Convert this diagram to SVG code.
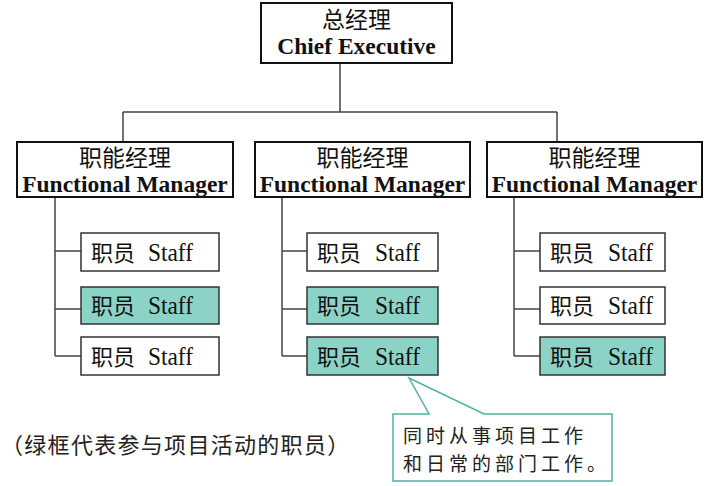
<svg xmlns="http://www.w3.org/2000/svg" width="712" height="486" viewBox="0 0 712 486">
<style>
.bg{fill:#ffffff}
.mgr{fill:#ffffff;stroke:#111;stroke-width:2}
.staff{fill:#ffffff;stroke:#333;stroke-width:1.5}
.staff.g{fill:#8CD3C7}
.ln{fill:none;stroke:#444;stroke-width:1.5}
.cn{font-family:"Liberation Serif","Noto Sans CJK SC",serif;font-size:23px;fill:#111}
.en{font-family:"Liberation Serif","Noto Sans CJK SC",serif;font-size:23.5px;font-weight:bold;fill:#111}
.st{font-family:"Liberation Serif","Noto Sans CJK SC",serif;font-size:22px;fill:#111}
.sl{font-family:"Liberation Serif",serif;font-size:25px;fill:#111}
.note{font-family:"Noto Sans CJK SC",sans-serif;font-size:22px;fill:#222;letter-spacing:1.3px}
.cl{font-family:"Noto Sans CJK SC",sans-serif;font-size:19px;fill:#222;letter-spacing:4px}
.callout{fill:#ffffff;stroke:#4DB3A6;stroke-width:1.5}
</style>
<rect class="bg" x="0" y="0" width="712" height="486"/>
<g id="connectors">
<path class="ln" d="M340 63V112M123 112H557M123 112V142M557 112V142"/>
<path class="ln" d="M55 197V356M55 251H81M55 309H81M55 356H81"/>
<path class="ln" d="M282 197V356M282 251H307M282 309H307M282 356H307"/>
<path class="ln" d="M514 197V356M514 251H540M514 309H540M514 356H540"/>
</g>
<g id="ceo">
<rect class="mgr" x="261" y="3" width="191" height="60"/>
<text class="cn" x="356.5" y="28" text-anchor="middle">总经理</text>
<text class="en" x="356.5" y="54" text-anchor="middle">Chief Executive</text>
</g>
<g id="fm1">
<rect class="mgr" x="17" y="142" width="216" height="55"/>
<text class="cn" x="125" y="166" text-anchor="middle">职能经理</text>
<text class="en" x="125" y="192" text-anchor="middle">Functional Manager</text>
</g>
<g id="fm2">
<rect class="mgr" x="255" y="142" width="215" height="55"/>
<text class="cn" x="362.5" y="166" text-anchor="middle">职能经理</text>
<text class="en" x="362.5" y="192" text-anchor="middle">Functional Manager</text>
</g>
<g id="fm3">
<rect class="mgr" x="487" y="142" width="215" height="55"/>
<text class="cn" x="594.5" y="166" text-anchor="middle">职能经理</text>
<text class="en" x="594.5" y="192" text-anchor="middle">Functional Manager</text>
</g>
<g id="s11"><rect class="staff" x="81" y="233" width="138" height="38"/><text class="st" x="91" y="261">职员</text><text class="sl" x="148" y="261" textLength="45" lengthAdjust="spacingAndGlyphs">Staff</text></g>
<g id="s12"><rect class="staff g" x="81" y="287" width="138" height="37"/><text class="st" x="91" y="314">职员</text><text class="sl" x="148" y="314" textLength="45" lengthAdjust="spacingAndGlyphs">Staff</text></g>
<g id="s13"><rect class="staff" x="81" y="337" width="138" height="38"/><text class="st" x="91" y="365">职员</text><text class="sl" x="148" y="365" textLength="45" lengthAdjust="spacingAndGlyphs">Staff</text></g>
<g id="s21"><rect class="staff" x="307" y="233" width="131" height="38"/><text class="st" x="317" y="261">职员</text><text class="sl" x="375" y="261" textLength="45" lengthAdjust="spacingAndGlyphs">Staff</text></g>
<g id="s22"><rect class="staff g" x="307" y="287" width="131" height="37"/><text class="st" x="317" y="314">职员</text><text class="sl" x="375" y="314" textLength="45" lengthAdjust="spacingAndGlyphs">Staff</text></g>
<g id="s23"><rect class="staff g" x="307" y="337" width="131" height="38"/><text class="st" x="317" y="365">职员</text><text class="sl" x="375" y="365" textLength="45" lengthAdjust="spacingAndGlyphs">Staff</text></g>
<g id="s31"><rect class="staff" x="540" y="233" width="125" height="38"/><text class="st" x="550" y="261">职员</text><text class="sl" x="608" y="261" textLength="45" lengthAdjust="spacingAndGlyphs">Staff</text></g>
<g id="s32"><rect class="staff" x="540" y="287" width="125" height="37"/><text class="st" x="550" y="314">职员</text><text class="sl" x="608" y="314" textLength="45" lengthAdjust="spacingAndGlyphs">Staff</text></g>
<g id="s33"><rect class="staff g" x="540" y="337" width="125" height="38"/><text class="st" x="550" y="365">职员</text><text class="sl" x="608" y="365" textLength="45" lengthAdjust="spacingAndGlyphs">Staff</text></g>
<g id="legend">
<text class="note" x="1" y="453">（绿框代表参与项目活动的职员）</text>
</g>
<g id="callout">
<path class="callout" d="M393 414H429L409 378L484 414H612V481H393Z"/>
<text class="cl" x="403" y="443">同时从事项目工作</text>
<text class="cl" x="403" y="471">和日常的部门工作。</text>
</g>
</svg>
